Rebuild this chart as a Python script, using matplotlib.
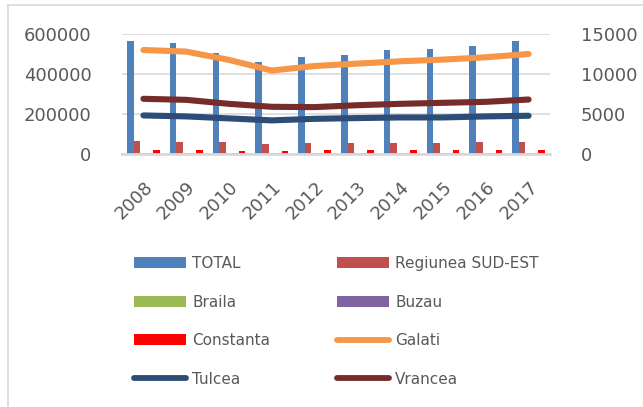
import matplotlib
matplotlib.use("Agg")
import matplotlib.pyplot as plt
from matplotlib.patches import Patch
from matplotlib.lines import Line2D
import numpy as np

years = ["2008", "2009", "2010", "2011", "2012", "2013", "2014", "2015", "2016", "2017"]

# Primary axis (bars)
total = [565000, 553000, 503000, 462000, 484000, 497000, 518000, 527000, 540000, 567000]
regiunea = [64800, 61500, 58000, 51500, 55000, 55000, 56500, 56500, 58000, 61500]
braila = [3500, 3500, 3300, 3200, 3300, 3300, 3300, 3300, 3400, 3500]
buzau = [5000, 5000, 4700, 4500, 4700, 4700, 4800, 4800, 4900, 5000]
constanta = [21600, 21600, 16600, 15000, 18000, 18000, 18000, 18000, 18000, 21600]

# Secondary axis (lines)
galati = [13000, 12800, 11760, 10430, 11000, 11300, 11590, 11800, 12090, 12500]
tulcea = [4820, 4700, 4450, 4200, 4400, 4490, 4570, 4570, 4700, 4780]
vrancea = [6900, 6770, 6270, 5900, 5860, 6100, 6270, 6400, 6520, 6810]

bar_series = [("TOTAL", total, "#4F81BD"),
              ("Regiunea SUD-EST", regiunea, "#C0504D"),
              ("Braila", braila, "#9BBB59"),
              ("Buzau", buzau, "#8064A2"),
              ("Constanta", constanta, "#FF0000")]
line_series = [("Galati", galati, "#F79646"),
               ("Tulcea", tulcea, "#2C4D75"),
               ("Vrancea", vrancea, "#772C2A")]

TXT = "#595959"
GRID = "#D9D9D9"
W, H = 643, 407
fig = plt.figure(figsize=(W / 100, H / 100), dpi=100)

# chart border (left & top visible)
fig.add_artist(Line2D([8 / W, 8 / W], [0, 1 - 5 / H], color=GRID, lw=1.2, transform=fig.transFigure))
fig.add_artist(Line2D([8 / W, 1], [1 - 5 / H, 1 - 5 / H], color=GRID, lw=1.2, transform=fig.transFigure))

ax = fig.add_axes([122 / W, 1 - 154 / H, (550 - 122) / W, 120 / H])
x = np.arange(len(years))
bw = 0.154
for i, (name, vals, col) in enumerate(bar_series):
    ax.bar(x + (i - 2) * bw, vals, width=bw, color=col, zorder=2)
ax.set_xlim(-0.5, len(years) - 0.5)
ax.set_ylim(0, 600000)
ax.set_yticks([0, 200000, 400000, 600000])
ax.set_yticklabels(["0", "200000", "400000", "600000"])
ax.yaxis.grid(True, color=GRID, lw=1.2, zorder=0)
ax.set_axisbelow(True)
for s in ["top", "right", "left"]:
    ax.spines[s].set_visible(False)
ax.spines["bottom"].set_color(GRID)
ax.spines["bottom"].set_linewidth(2)
ax.tick_params(axis="y", length=0, pad=22, labelsize=13, labelcolor=TXT)
ax.tick_params(axis="x", length=0, pad=17, labelsize=13, labelcolor=TXT)
ax.set_xticks(x)
ax.set_xticklabels(years, rotation=45, ha="right", rotation_mode="anchor")

ax2 = ax.twinx()
for name, vals, col in line_series:
    ax2.plot(x, vals, color=col, lw=4.4, solid_capstyle="round", solid_joinstyle="round", zorder=3)
ax2.set_ylim(0, 15000)
ax2.set_yticks([0, 5000, 10000, 15000])
ax2.set_yticklabels(["0", "5000", "10000", "15000"])
for s in ["top", "right", "left", "bottom"]:
    ax2.spines[s].set_visible(False)
ax2.tick_params(axis="y", length=0, pad=22, labelsize=13, labelcolor=TXT)

handles = {}
for name, vals, col in bar_series:
    handles[name] = Patch(facecolor=col, edgecolor="none")
for name, vals, col in line_series:
    handles[name] = Line2D([], [], color=col, lw=4.2, solid_capstyle="round")
order = ["TOTAL", "Braila", "Constanta", "Tulcea", "Regiunea SUD-EST", "Buzau", "Galati", "Vrancea"]
leg = fig.legend([handles[n] for n in order], order, ncol=2, loc="upper left",
                 bbox_to_anchor=(134 / W, 1 - 256 / H), frameon=False, fontsize=11,
                 handlelength=3.4, handletextpad=0.4, columnspacing=4.4,
                 labelspacing=1.54, borderpad=0, borderaxespad=0)
for t in leg.get_texts():
    t.set_color(TXT)

fig.savefig("out.png", dpi=100)
